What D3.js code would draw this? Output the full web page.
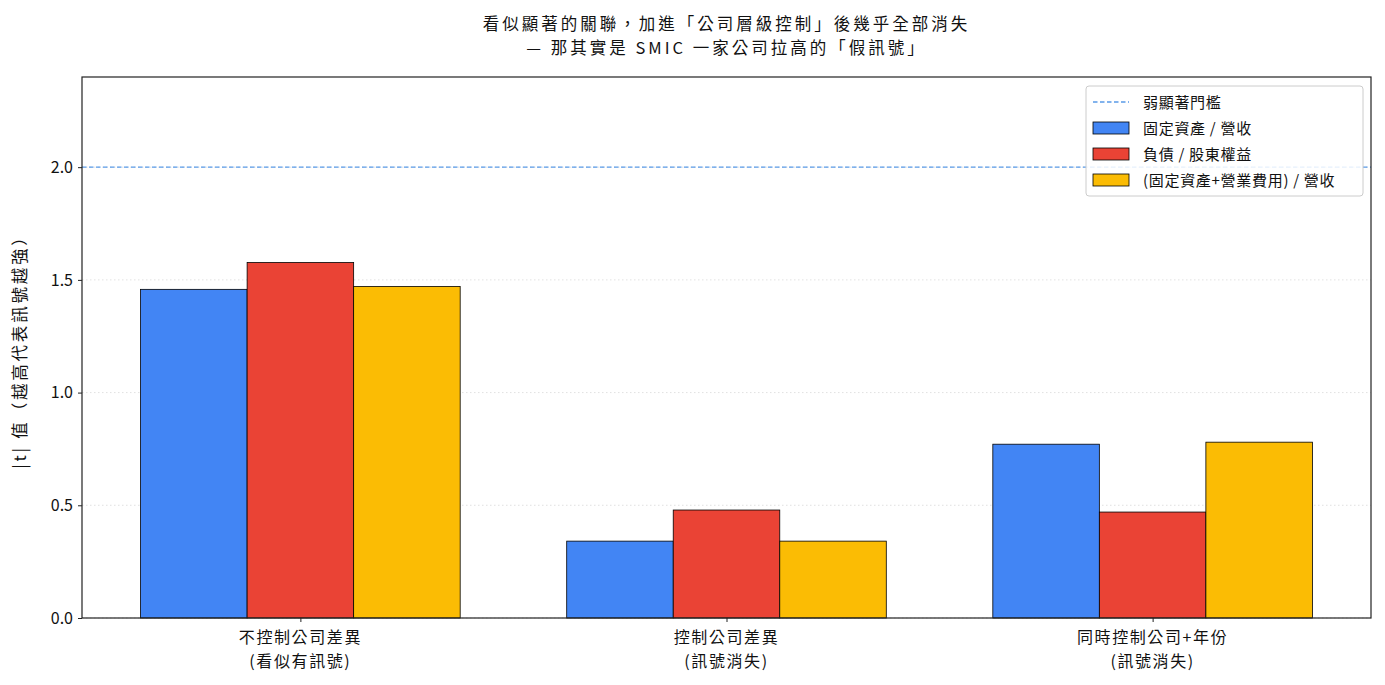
<!DOCTYPE html>
<html><head><meta charset="utf-8">
<script src="https://cdn.jsdelivr.net/npm/d3@7/dist/d3.min.js"></script>
<style>
body{margin:0;background:#fff;}
text{font-family:"Noto Sans CJK TC","Noto Sans",sans-serif;fill:#111;}
</style></head>
<body><svg id="c" width="1385" height="685"></svg>
<script>
const categories = [["不控制公司差異","(看似有訊號)"],["控制公司差異","(訊號消失)"],["同時控制公司+年份","(訊號消失)"]];
const seriesNames = ["固定資產 / 營收","負債 / 股東權益","(固定資產+營業費用) / 營收"];
const seriesColors = ["#4285F4","#EA4335","#FBBC04"];
const valuesFixedAssets = [1.458, 0.341, 0.771];
const valuesDebtEquity = [1.577, 0.479, 0.470];
const valuesFixedOpex = [1.471, 0.341, 0.780];
const seriesValues = [valuesFixedAssets, valuesDebtEquity, valuesFixedOpex];
const yTicks = [0.0, 0.5, 1.0, 1.5, 2.0];
const threshold = 2.0;
const thresholdLabel = "弱顯著門檻";
const titleLines = ["看似顯著的關聯，加進「公司層級控制」後幾乎全部消失","— 那其實是 SMIC 一家公司拉高的「假訊號」"];
const yLabel = "|t| 值（越高代表訊號越強）";

const svg = d3.select("#c");
const L=82,R=1371,T=77,B=618;
const barW = 0.25;
const x = d3.scaleLinear().domain([-0.5125, 2.5125]).range([L,R]);
const y = d3.scaleLinear().domain([0,2.4]).range([B,T]);

// grid
svg.append("g").selectAll("line").data(yTicks).join("line")
  .attr("x1",L).attr("x2",R).attr("y1",d=>y(d)).attr("y2",d=>y(d))
  .attr("stroke","#d9d9d9").attr("stroke-width",0.8).attr("stroke-dasharray","1.5,2.5");

// bars
seriesValues.forEach((vals,si)=>{
  svg.append("g").selectAll("rect").data(vals).join("rect")
    .attr("x",(d,i)=>x(i+(si-1)*barW-barW/2))
    .attr("width",x(barW)-x(0))
    .attr("y",d=>y(d)).attr("height",d=>y(0)-y(d))
    .attr("fill",seriesColors[si]).attr("stroke","#000").attr("stroke-width",0.8);
});

// threshold
svg.append("line").attr("x1",L).attr("x2",R).attr("y1",y(threshold)).attr("y2",y(threshold))
  .attr("stroke","#5A9BE8").attr("stroke-width",1.3).attr("stroke-dasharray","4.5,2.5");

// axes
const ya = svg.append("g").attr("transform",`translate(${L},0)`)
  .call(d3.axisLeft(y).tickValues(yTicks).tickFormat(d3.format(".1f")).tickSize(4).tickPadding(5));
ya.selectAll("text").attr("font-size",16).style("fill","#111");
ya.select(".domain").remove();
const xa = svg.append("g").attr("transform",`translate(0,${B})`)
  .call(d3.axisBottom(x).tickValues([0,1,2]).tickFormat("").tickSize(4));
xa.select(".domain").remove();
svg.selectAll(".tick line").attr("stroke","#222");
categories.forEach((c,i)=>{
  const t = svg.append("text").attr("x",x(i)).attr("y",643).attr("text-anchor","middle")
    .attr("font-size",16).attr("letter-spacing",1.6);
  c.forEach((line,k)=>t.append("tspan").attr("x",x(i)).attr("dy",k?23.5:0).text(line));
});

// frame
svg.append("rect").attr("x",L).attr("y",T).attr("width",R-L).attr("height",B-T)
  .attr("fill","none").attr("stroke","#222").attr("stroke-width",1.2);

// y label
svg.append("text").attr("transform",`translate(26,${(T+B)/2}) rotate(-90)`)
  .attr("text-anchor","middle").attr("font-size",16.5).attr("letter-spacing",2.8).text(yLabel);

// title
titleLines.forEach((t,i)=>svg.append("text").attr("x",(L+R)/2).attr("y",30+i*24)
  .attr("text-anchor","middle").attr("font-size",16.5).attr("letter-spacing",3).text(t));

// legend
const lg = svg.append("g");
lg.append("rect").attr("x",1086).attr("y",86).attr("width",277).attr("height",110).attr("rx",3)
  .attr("fill","#fff").attr("fill-opacity",0.85).attr("stroke","#ccc");
lg.append("line").attr("x1",1093).attr("x2",1129).attr("y1",102).attr("y2",102)
  .attr("stroke","#5A9BE8").attr("stroke-width",1.3).attr("stroke-dasharray","4.5,2.5");
lg.append("text").attr("x",1143).attr("y",108).attr("font-size",15).attr("letter-spacing",0.7).text(thresholdLabel);
seriesNames.forEach((n,i)=>{
  const yy = 128+i*26;
  lg.append("rect").attr("x",1093).attr("y",yy-6).attr("width",36).attr("height",12)
    .attr("fill",seriesColors[i]).attr("stroke","#000").attr("stroke-width",0.8);
  lg.append("text").attr("x",1143).attr("y",yy+6).attr("font-size",15).attr("letter-spacing",0.7).text(n);
});
</script></body></html>
